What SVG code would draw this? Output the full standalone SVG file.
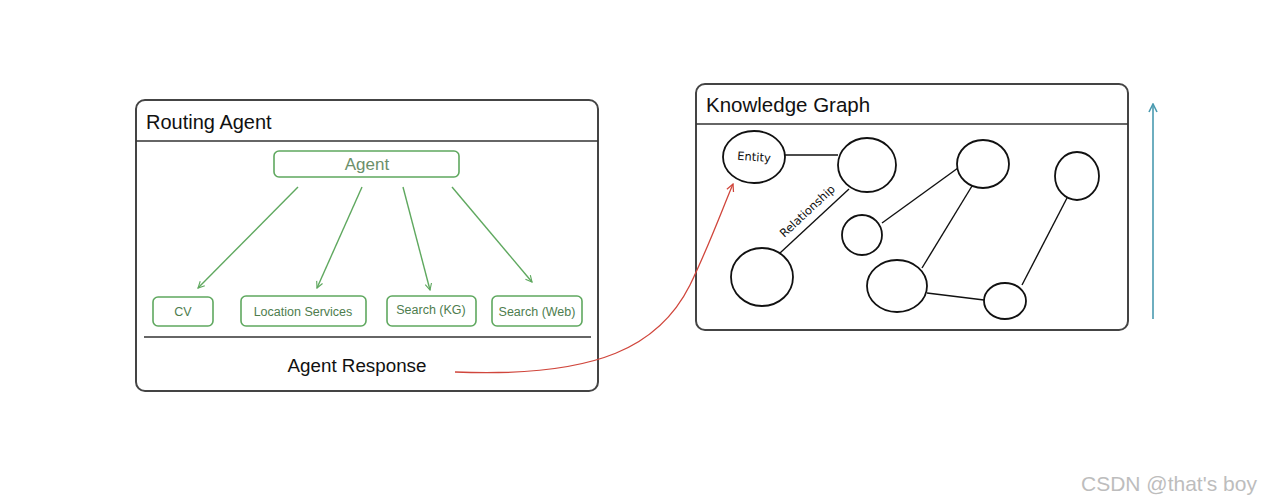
<svg xmlns="http://www.w3.org/2000/svg" width="1280" height="504" viewBox="0 0 1280 504">
<style>
.frame{fill:#fff;stroke:#444;stroke-width:2}
.hline{stroke:#333;stroke-width:1.6}
.title{font-family:"Liberation Sans",Arial,sans-serif;fill:#111}
.gbox{fill:#fff;stroke:#5fa85f;stroke-width:1.6}
.glabel{font-family:"Liberation Sans",Arial,sans-serif;font-size:12.5px;fill:#4e7d4e;text-anchor:middle}
.garrow{stroke:#5fa85f;stroke-width:1.4;fill:none;marker-end:url(#ga)}
.node{fill:#fff;stroke:#111;stroke-width:1.8}
.edge{stroke:#111;stroke-width:1.4}
.hand{font-family:"DejaVu Sans",sans-serif;font-size:11.5px;fill:#111}
</style>
<defs>
<marker id="ga" viewBox="0 0 10 10" refX="9" refY="5" markerWidth="8" markerHeight="8" markerUnits="userSpaceOnUse" orient="auto">
<path d="M1,1 L9,5 L1,9" fill="none" stroke="#5fa85f" stroke-width="1.4"/>
</marker>
<marker id="ra" viewBox="0 0 10 10" refX="9" refY="5" markerWidth="9" markerHeight="9" markerUnits="userSpaceOnUse" orient="auto">
<path d="M1,1 L9,5 L1,9" fill="none" stroke="#d0463c" stroke-width="1.4"/>
</marker>
<marker id="ta" viewBox="0 0 10 10" refX="9" refY="5" markerWidth="10" markerHeight="10" markerUnits="userSpaceOnUse" orient="auto">
<path d="M1,1 L9,5 L1,9" fill="none" stroke="#4a9ab0" stroke-width="1.6"/>
</marker>
</defs>
<rect width="1280" height="504" fill="#fff"/>

<g id="routing-agent">
<rect class="frame" x="136" y="100" width="462" height="291" rx="9"/>
<line class="hline" x1="136" y1="141" x2="598" y2="141"/>
<text class="title" x="146" y="129" font-size="20">Routing Agent</text>
<line class="hline" x1="144" y1="337" x2="591" y2="337"/>
<text class="title" x="357" y="372" font-size="18.8" text-anchor="middle">Agent Response</text>
</g>

<g id="agent">
<rect class="gbox" x="274" y="151" width="185" height="26" rx="5"/>
<text x="367" y="170" font-family="Liberation Sans,Arial,sans-serif" font-size="17" fill="#6b8f6b" text-anchor="middle">Agent</text>
</g>
<g id="cv">
<rect class="gbox" x="153" y="297" width="60" height="29" rx="5"/>
<text class="glabel" x="183" y="316">CV</text>
</g>
<g id="location-services">
<rect class="gbox" x="241" y="296" width="125" height="30" rx="5"/>
<text class="glabel" x="303" y="316">Location Services</text>
</g>
<g id="search-kg">
<rect class="gbox" x="387" y="296" width="89" height="30" rx="5"/>
<text class="glabel" x="431" y="314">Search (KG)</text>
</g>
<g id="search-web">
<rect class="gbox" x="492" y="296" width="90" height="30" rx="5"/>
<text class="glabel" x="537" y="316">Search (Web)</text>
</g>

<g id="knowledge-graph">
<rect class="frame" x="696" y="84" width="432" height="246" rx="9"/>
<line class="hline" x1="696" y1="124" x2="1128" y2="124"/>
<text class="title" x="706" y="112" font-size="20.5">Knowledge Graph</text>
</g>

<g id="kg-edges">
<line class="edge" x1="785" y1="155" x2="838" y2="155"/>
<line class="edge" x1="849" y1="189" x2="780" y2="253"/>
<line class="edge" x1="882" y1="223" x2="958" y2="168"/>
<line class="edge" x1="972" y1="186" x2="922" y2="268"/>
<line class="edge" x1="927" y1="293" x2="984" y2="300"/>
<line class="edge" x1="1022" y1="285" x2="1067" y2="198"/>
<text class="hand" x="0" y="0" transform="translate(810,214) rotate(-43)" text-anchor="middle">Relationship</text>
</g>

<g id="entity">
<ellipse class="node" cx="754" cy="157" rx="31" ry="26"/>
<text class="hand" x="754" y="161" text-anchor="middle" font-size="11.5" transform="rotate(4 754 157)">Entity</text>
</g>
<g id="n2"><ellipse class="node" cx="867" cy="165" rx="29" ry="27"/></g>
<g id="n3"><ellipse class="node" cx="983" cy="164" rx="26" ry="24"/></g>
<g id="n4"><ellipse class="node" cx="1077" cy="176" rx="22" ry="24"/></g>
<g id="n5"><ellipse class="node" cx="862" cy="235" rx="20" ry="20"/></g>
<g id="n6"><ellipse class="node" cx="762" cy="277" rx="31" ry="29"/></g>
<g id="n7"><ellipse class="node" cx="897" cy="286" rx="30" ry="26"/></g>
<g id="n8"><ellipse class="node" cx="1005" cy="301" rx="21" ry="18"/></g>

<g id="connectors">
<line class="garrow" x1="298" y1="187" x2="198" y2="288"/>
<line class="garrow" x1="362" y1="187" x2="317" y2="288"/>
<line class="garrow" x1="403" y1="187" x2="430" y2="290"/>
<line class="garrow" x1="452" y1="187" x2="532" y2="282"/>
<path d="M455,372 C600,378 660,345 690,285 C708,248 722,210 733,184" fill="none" stroke="#d0463c" stroke-width="1.3" marker-end="url(#ra)"/>
<line x1="1153" y1="319" x2="1153" y2="104" stroke="#4a9ab0" stroke-width="1.6" marker-end="url(#ta)"/>
</g>

<text x="1081" y="491" font-family="Liberation Sans,Arial,sans-serif" font-size="21" fill="#bdbdbd">CSDN @that's boy</text>
</svg>
